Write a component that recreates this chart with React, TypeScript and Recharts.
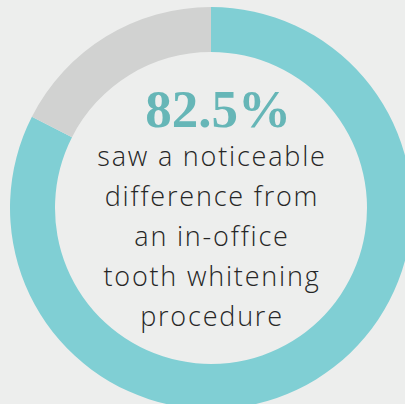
import React from "react";
import { PieChart, Pie, Cell } from "recharts";

const categories = ["Noticed a difference", "No noticeable difference"];
const values = [82.5, 17.5];
const colors = ["#80cfd4", "#d1d2d1"];
const captionLines = [
  "saw a noticeable",
  "difference from",
  "an in-office",
  "tooth whitening",
  "procedure",
];

const data = categories.map((name, i) => ({ name, value: values[i] }));

export default function App() {
  const W = 405;
  const H = 404;
  const cx = 211;
  const cy = 208;
  return (
    <div
      style={{
        position: "absolute",
        left: 0,
        top: 0,
        width: W,
        height: H,
        background: "#edeeed",
        overflow: "hidden",
      }}
    >
      <PieChart width={W} height={H} margin={{ top: 0, right: 0, bottom: 0, left: 0 }}>
        <Pie
          data={data}
          dataKey="value"
          nameKey="name"
          cx={cx}
          cy={cy}
          innerRadius={156}
          outerRadius={201}
          startAngle={90}
          endAngle={-270}
          stroke="none"
          isAnimationActive={false}
        >
          {data.map((d, i) => (
            <Cell key={d.name} fill={colors[i]} />
          ))}
        </Pie>
      </PieChart>
      <svg
        width={W}
        height={H}
        style={{ position: "absolute", left: 0, top: 0, pointerEvents: "none" }}
      >
        <text
          x={218}
          y={127}
          textAnchor="middle"
          fontFamily="'Liberation Serif', serif"
          fontWeight="bold"
          fontSize={53}
          fill="#66b6b7"
        >
          {values[0]}%
        </text>
        {captionLines.map((line, i) => (
          <text
            key={line}
            x={212}
            y={166 + i * 40}
            textAnchor="middle"
            fontFamily="'Open Sans', sans-serif"
            fontWeight={300}
            fontSize={27}
            letterSpacing={1.8}
            fill="#262626"
          >
            {line}
          </text>
        ))}
      </svg>
    </div>
  );
}
